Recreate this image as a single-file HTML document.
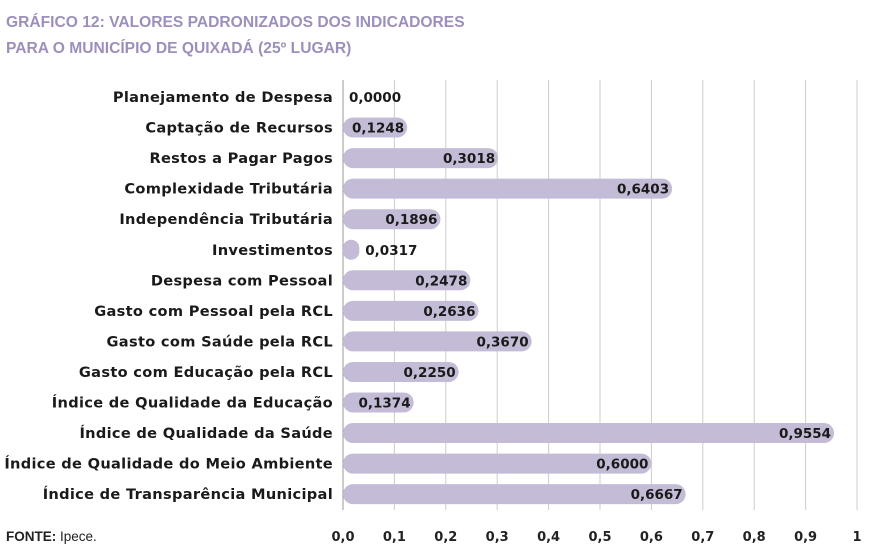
<!DOCTYPE html>
<html><head><meta charset="utf-8"><style>
body{margin:0;background:#fff;width:871px;height:552px;overflow:hidden;font-family:"Liberation Sans",sans-serif}
</style></head><body>
<svg width="871" height="552" xmlns="http://www.w3.org/2000/svg">
<text x="6" y="27" font-size="15.6" font-weight="bold" fill="#9d8fbb">GRÁFICO 12: VALORES PADRONIZADOS DOS INDICADORES</text>
<text x="6" y="53" font-size="15.6" font-weight="bold" fill="#9d8fbb">PARA O MUNICÍPIO DE QUIXADÁ (25º LUGAR)</text>
<g id="grid"></g><g id="bars"></g>
<text x="6" y="541" font-size="13.5" fill="#222"><tspan font-weight="bold">FONTE:</tspan> Ipece.</text>
</svg>
<script>
const categories=["Planejamento de Despesa","Captação de Recursos","Restos a Pagar Pagos","Complexidade Tributária","Independência Tributária","Investimentos","Despesa com Pessoal","Gasto com Pessoal pela RCL","Gasto com Saúde pela RCL","Gasto com Educação pela RCL","Índice de Qualidade da Educação","Índice de Qualidade da Saúde","Índice de Qualidade do Meio Ambiente","Índice de Transparência Municipal"];
const values=[0.0000,0.1248,0.3018,0.6403,0.1896,0.0317,0.2478,0.2636,0.3670,0.2250,0.1374,0.9554,0.6000,0.6667];
const ticks=[0,0.1,0.2,0.3,0.4,0.5,0.6,0.7,0.8,0.9,1];
const tickLabels=["0,0","0,1","0,2","0,3","0,4","0,5","0,6","0,7","0,8","0,9","1"];
const NS="http://www.w3.org/2000/svg";
const F='"DejaVu Sans",sans-serif';
const x=v=>343+v*514;
const y=i=>97+i*30.55;
const g=document.getElementById('grid'),b=document.getElementById('bars');
function mk(p,t,a){const e=document.createElementNS(NS,t);for(const k in a)e.setAttribute(k,a[k]);p.appendChild(e);return e;}
ticks.forEach((t,i)=>{
 const l=mk(g,'line',{x1:x(t),x2:x(t),y1:80,y2:510,stroke:i==0?'#999':'#ccc','stroke-width':1});
 
 
 const tx=mk(g,'text',{x:x(t),y:541,'font-size':13,'font-weight':'bold','text-anchor':'middle',fill:'#222','font-family':F});
 tx.textContent=tickLabels[i];
 
 
});
categories.forEach((c,i)=>{
 const cy=y(i),v=values[i];
 const lab=mk(b,'text',{x:333,y:cy+5,'font-size':14.6,'font-weight':'bold','text-anchor':'end',fill:'#1a1a1a','font-family':F,'letter-spacing':0.3});
 lab.textContent=c;
 
 
 const w=x(v)-x(0);
 if(w>0){const r=mk(b,'rect',{x:x(0),y:cy-10,width:w,height:20,rx:Math.min(10,w/2),fill:'#c4bcd6'});
 
 }
 const s=v.toFixed(4).replace('.',',');
 const inside=v>=0.1;
 const vt=mk(b,'text',{x:inside?x(v)-3:x(v)+6,y:cy+5,'font-size':13.5,'font-weight':'bold','text-anchor':inside?'end':'start',fill:'#1a1a1a','font-family':F});
 vt.textContent=s;
 
 
});
</script>
</body></html>
